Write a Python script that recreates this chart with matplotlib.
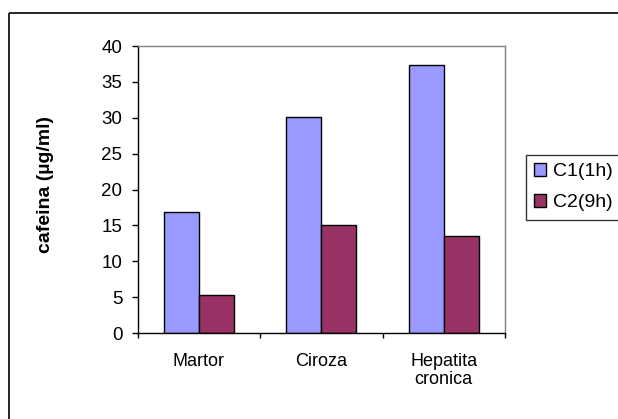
import matplotlib
matplotlib.use("Agg")
import matplotlib.pyplot as plt
from matplotlib.patches import Rectangle
import numpy as np

plt.rcParams['font.family'] = ['Liberation Sans', 'DejaVu Sans']

categories = ["Martor", "Ciroza", "Hepatita\ncronica"]
series_names = ["C1(1h)", "C2(9h)"]
c1_values = [16.8, 30.1, 37.4]
c2_values = [5.3, 15.0, 13.5]
colors = ["#9999FF", "#993366"]

W, H = 618, 419
fig = plt.figure(figsize=(W / 100, H / 100), dpi=100)

# outer chart frame
fig.patches.append(Rectangle((8.5 / W, 1 - 13.5 / H), 700 / W, -500 / H,
                             transform=fig.transFigure, fill=False,
                             edgecolor="black", linewidth=1.2, clip_on=False))

left, right, top, bottom = 137.5, 505, 46, 333
ax = fig.add_axes([left / W, 1 - bottom / H, (right - left) / W, (bottom - top) / H])

x = np.arange(len(categories))
bw = 1 / 3.5
ax.bar(x - bw / 2, c1_values, bw, color=colors[0], edgecolor="black", linewidth=1.0, label=series_names[0])
ax.bar(x + bw / 2, c2_values, bw, color=colors[1], edgecolor="black", linewidth=1.0, label=series_names[1])

ax.set_xlim(-0.5, len(categories) - 0.5)
ax.set_ylim(0, 40)
ax.set_yticks(range(0, 41, 5))
ax.tick_params(axis="y", direction="out", length=4.3, width=1, labelsize=13.5, pad=6.5, colors="black")

ax.set_xticks(np.arange(-0.5, len(categories), 1.0))
ax.set_xticklabels([])
ax.tick_params(axis="x", which="major", direction="out", length=3.8, width=1)
ax.set_xticks(x, minor=True)
ax.set_xticklabels(categories, minor=True, fontsize=13, linespacing=1.05, va="top")
ax.tick_params(axis="x", which="minor", length=0, pad=14.5)

for s in ("top", "right"):
    ax.spines[s].set_color("#808080")
    ax.spines[s].set_linewidth(1.0)
for s in ("left", "bottom"):
    ax.spines[s].set_color("black")
    ax.spines[s].set_linewidth(1.0)

fig.text(45 / W, 1 - 184 / H, "cafeina (µg/ml)", rotation=90, fontsize=14,
         fontweight="bold", ha="center", va="center")

leg = fig.legend(loc="upper left", bbox_to_anchor=(526 / W, 1 - 155 / H),
                 frameon=True, fancybox=False, fontsize=14, handlelength=0.62,
                 handleheight=0.62, handletextpad=0.36, borderpad=0.42,
                 labelspacing=0.72, borderaxespad=0)
leg.get_frame().set_edgecolor("black")
leg.get_frame().set_linewidth(1.0)

fig.savefig("out.png", dpi=100)
